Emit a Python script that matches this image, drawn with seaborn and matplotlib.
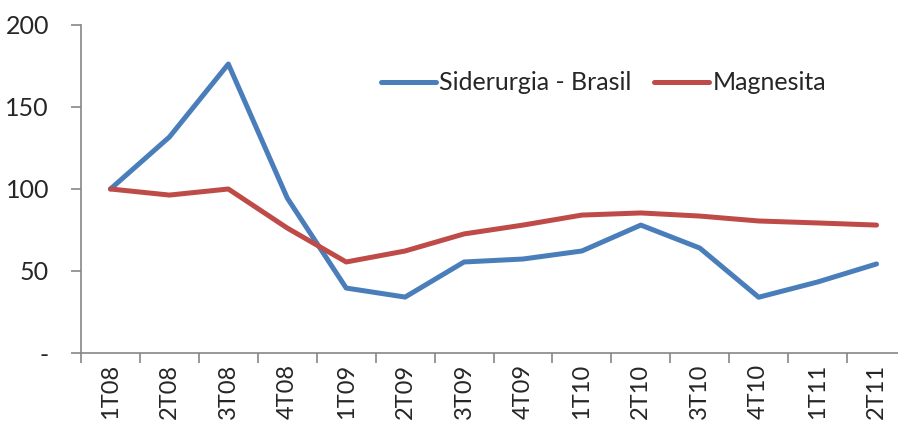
import numpy as np
import pandas as pd
import matplotlib
matplotlib.use("Agg")
import matplotlib.pyplot as plt
import seaborn as sns


QUARTERS = ["1T08", "2T08", "3T08", "4T08", "1T09", "2T09", "3T09",
            "4T09", "1T10", "2T10", "3T10", "4T10", "1T11", "2T11"]
SIDERURGIA = [100, 131.7, 176.2, 94.5, 39.6, 34.1, 55.5,
              57.3, 62.2, 78.0, 64.0, 34.0, 43.3, 54.3]
MAGNESITA = [100, 96.3, 100, 76.2, 55.5, 62.2, 72.6,
             78.0, 84.1, 85.4, 83.5, 80.5, 79.3, 78.0]
SERIES_NAMES = ["Siderurgia - Brasil", "Magnesita"]
COLORS = ["#4A7EBB", "#BE4B48"]
Y_TICKS = [0, 50, 100, 150, 200]
Y_TICK_LABELS = ["-", "50", "100", "150", "200"]


df = pd.DataFrame({
    "quarter": QUARTERS * 2,
    "value": SIDERURGIA + MAGNESITA,
    "series": [SERIES_NAMES[0]] * len(QUARTERS) + [SERIES_NAMES[1]] * len(QUARTERS),
})

sns.set_style("white")
plt.rcParams["font.family"] = ["Lato", "DejaVu Sans"]

W, H = 898, 423
fig = plt.figure(figsize=(W / 100, H / 100), dpi=100)
ax = fig.add_axes([81 / W, 1 - 353 / H, (906 - 81) / W, (353 - 25) / H])

sns.lineplot(
    data=df,
    x="quarter",
    y="value",
    hue="series",
    hue_order=SERIES_NAMES,
    palette=COLORS,
    linewidth=3.6,
    sort=False,
    ax=ax,
)

n = len(QUARTERS)
ax.set_xlim(-0.5, n - 0.5)
ax.set_ylim(0, 200)

# category boundaries get the tick marks, labels sit in the middle
ax.set_xticks(np.arange(n + 1) - 0.5)
ax.set_xticklabels([])
ax.set_xticks(np.arange(n), minor=True)
ax.set_xticklabels(QUARTERS, minor=True, rotation=90, fontsize=17)
ax.tick_params(axis="x", which="major", direction="out", length=7,
               width=1.2, color="#868686", bottom=True)
ax.tick_params(axis="x", which="minor", length=0, pad=8)

ax.set_yticks(Y_TICKS)
ax.set_yticklabels(Y_TICK_LABELS, fontsize=18)
ax.tick_params(axis="y", direction="out", length=7, width=1.2,
               color="#868686", left=True, pad=16)

ax.set_xlabel("")
ax.set_ylabel("")
for side in ["top", "right"]:
    ax.spines[side].set_visible(False)
for side in ["left", "bottom"]:
    ax.spines[side].set_color("#868686")
    ax.spines[side].set_linewidth(1.2)

handles, labels = ax.get_legend_handles_labels()
ax.legend(
    handles, labels,
    loc="center left",
    bbox_to_anchor=(358 / W, 1 - 83 / H),
    bbox_transform=fig.transFigure,
    ncol=2,
    frameon=False,
    fontsize=18,
    handlelength=2.2,
    handletextpad=0.15,
    columnspacing=0.9,
)

fig.savefig("out.png", dpi=100)
plt.close(fig)
